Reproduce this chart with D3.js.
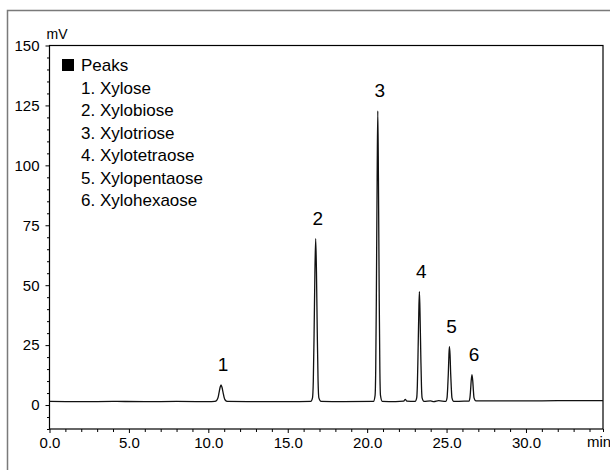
<!DOCTYPE html>
<html>
<head>
<meta charset="utf-8">
<script src="https://cdn.jsdelivr.net/npm/d3@7"></script>
<style>
  html, body { margin: 0; padding: 0; background: #fff; }
  svg { display: block; font-family: "Liberation Sans", Arial, sans-serif; }
</style>
</head>
<body>
<svg id="chart" width="610" height="470"></svg>
<script>
// ---- data ----
const legendTitle = "Peaks";
const peakNames = ["1. Xylose", "2. Xylobiose", "3. Xylotriose", "4. Xylotetraose", "5. Xylopentaose", "6. Xylohexaose"];
const peakLabels = ["1", "2", "3", "4", "5", "6"];
const peakTimes = [10.8, 16.76, 20.67, 23.29, 25.18, 26.6];
const peakHeights = [8.4, 69.4, 122.7, 47.3, 24.4, 12.7];
const xTickValues = [0, 5, 10, 15, 20, 25, 30];
const xTickLabels = ["0.0", "5.0", "10.0", "15.0", "20.0", "25.0", "30.0"];
const xUnit = "min";
const yTickValues = [0, 25, 50, 75, 100, 125, 150];
const yUnit = "mV";
// chromatogram trace: [time (min), signal (mV)]
const trace = [
  [0, 1.5], [2, 1.4], [4, 1.5], [6, 1.4], [8, 1.5], [10, 1.4], [10.4, 1.5],
  [10.55, 2.2], [10.62, 3.3], [10.67, 5.0], [10.74, 7.3], [10.8, 8.4], [10.86, 7.4], [10.93, 5.2], [10.99, 3.3], [11.06, 2.1], [11.2, 1.5],
  [13, 1.4], [15, 1.4], [16.45, 1.5],
  [16.56, 3], [16.61, 10], [16.66, 30], [16.71, 55], [16.76, 69.4], [16.81, 55], [16.86, 30], [16.91, 10], [16.96, 3], [17.1, 1.5],
  [18.5, 1.4], [20.4, 1.5],
  [20.5, 4], [20.54, 15], [20.58, 45], [20.63, 95], [20.67, 122.7], [20.71, 95], [20.76, 45], [20.8, 15], [20.84, 4], [20.95, 1.5],
  [21.8, 1.4], [22.3, 1.6], [22.4, 2.4], [22.5, 1.6], [23.02, 1.5],
  [23.12, 3], [23.16, 8], [23.2, 20], [23.25, 38], [23.29, 47.3], [23.33, 38], [23.38, 20], [23.42, 8], [23.46, 3], [23.58, 1.5],
  [24.0, 1.7], [24.2, 1.4], [24.5, 1.8], [24.95, 1.5],
  [25.03, 3], [25.07, 7], [25.11, 13], [25.15, 21], [25.18, 24.4], [25.22, 21], [25.26, 13], [25.3, 7], [25.34, 3], [25.45, 1.5],
  [26.1, 1.6], [26.4, 1.6],
  [26.47, 3], [26.51, 6], [26.55, 10], [26.6, 12.7], [26.65, 10], [26.69, 6], [26.73, 3], [26.85, 1.7],
  [28, 1.7], [30, 1.7], [32, 1.8], [34.85, 1.8]
];

// ---- layout ----
const svg = d3.select("#chart");
const x = d3.scaleLinear().domain([0, 34.85]).range([49.5, 603]);
const y = d3.scaleLinear().domain([-10, 150]).range([429, 45.5]);
const font = "'Liberation Sans', Arial, sans-serif";

// outer frame (gray)
svg.append("path")
  .attr("d", "M7.5,470 L7.5,10.5 L610,10.5")
  .attr("fill", "none").attr("stroke", "#7a7a7a").attr("stroke-width", 1.5);

// plot frame
svg.append("rect")
  .attr("x", x.range()[0]).attr("y", y.range()[1])
  .attr("width", x.range()[1] - x.range()[0])
  .attr("height", y.range()[0] - y.range()[1])
  .attr("fill", "none").attr("stroke", "#000").attr("stroke-width", 1.2);

// y axis
const yMinor = d3.range(-10, 151, 5).filter(v => v % 25 !== 0);
const yAxisG = svg.append("g").attr("transform", `translate(${x.range()[0]},0)`);
yAxisG.call(d3.axisLeft(y).tickValues(yTickValues).tickSize(4).tickPadding(6).tickFormat(d3.format("d")));
const yMinorG = svg.append("g").attr("transform", `translate(${x.range()[0]},0)`);
yMinorG.call(d3.axisLeft(y).tickValues(yMinor).tickSize(2.5).tickFormat(""));
[yAxisG, yMinorG].forEach(g => {
  g.select(".domain").remove();
  g.selectAll("line").attr("stroke", "#000");
  g.selectAll("text").attr("font-size", 15).attr("font-family", font).attr("fill", "#000");
});

// x axis
const xMinor = d3.range(1, 35, 1).filter(v => v % 5 !== 0);
const xAxisG = svg.append("g").attr("transform", `translate(0,${y.range()[0]})`);
xAxisG.call(d3.axisBottom(x).tickValues(xTickValues).tickSize(4).tickPadding(4)
  .tickFormat((d, i) => xTickLabels[i]));
const xMinorG = svg.append("g").attr("transform", `translate(0,${y.range()[0]})`);
xMinorG.call(d3.axisBottom(x).tickValues(xMinor.concat([34.85])).tickSize(3).tickFormat(""));
[xAxisG, xMinorG].forEach(g => {
  g.select(".domain").remove();
  g.selectAll("line").attr("stroke", "#000");
  g.selectAll("text").attr("font-size", 15).attr("font-family", font).attr("fill", "#000");
});

// axis unit labels
svg.append("text").attr("x", x.range()[0] - 3).attr("y", 39)
  .attr("font-size", 14).attr("font-family", font).text(yUnit);
svg.append("text").attr("x", 599).attr("y", 447).attr("text-anchor", "middle")
  .attr("font-size", 15).attr("font-family", font).text(xUnit);

// trace
const line = d3.line().x(d => x(d[0])).y(d => y(d[1])).curve(d3.curveMonotoneX);
svg.append("path").datum(trace)
  .attr("d", line).attr("fill", "none").attr("stroke", "#111").attr("stroke-width", 1.3);

// peak labels
svg.append("g").selectAll("text").data(peakLabels).join("text")
  .attr("x", (d, i) => x(peakTimes[i]) + 2)
  .attr("y", (d, i) => y(peakHeights[i]) - 14)
  .attr("text-anchor", "middle")
  .attr("font-size", 19).attr("font-family", font).attr("fill", "#000")
  .text(d => d);

// legend
const lg = svg.append("g");
lg.append("rect").attr("x", 62).attr("y", 59).attr("width", 12).attr("height", 12).attr("fill", "#000");
lg.append("text").attr("x", 81).attr("y", 71).attr("font-size", 17).attr("font-family", font).text(legendTitle);
lg.selectAll("text.item").data(peakNames).join("text").attr("class", "item")
  .attr("x", 81).attr("y", (d, i) => 71 + 22.5 * (i + 1))
  .attr("font-size", 17).attr("font-family", font).text(d => d);
</script>
</body>
</html>
